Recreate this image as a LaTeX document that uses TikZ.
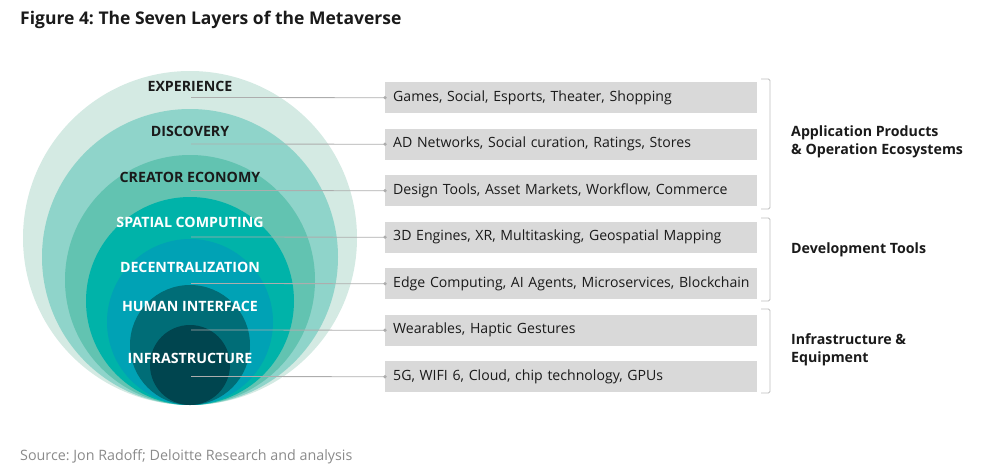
\documentclass[tikz,border=0pt]{standalone}
\usepackage{fontspec}
\setmainfont{Open Sans}
\definecolor{ringA}{HTML}{D4EAE3}
\definecolor{ringB}{HTML}{8FD4CA}
\definecolor{ringC}{HTML}{62C3B1}
\definecolor{ringD}{HTML}{00B3A9}
\definecolor{ringE}{HTML}{00A2B5}
\definecolor{ringF}{HTML}{006D77}
\definecolor{ringG}{HTML}{00454F}
\definecolor{boxgray}{HTML}{D9D9D9}
\definecolor{linegray}{HTML}{ADADAD}
\definecolor{brackgray}{HTML}{BDBDBD}
\definecolor{ink}{HTML}{1A1A1A}
\definecolor{srcgray}{HTML}{8A8A8A}
\begin{document}
\frenchspacing
\begin{tikzpicture}[x=1pt,y=-1pt,
  layer/.style={font=\bfseries\fontsize{14.2}{16}\selectfont, inner sep=0pt},
  darklayer/.style={layer, text=ink},
  lightlayer/.style={layer, text=white},
  item/.style={fill=boxgray, anchor=north west, minimum height=31pt,
    text width=356pt, inner xsep=8pt, inner ysep=0pt, align=left,
    font=\fontsize{14.1}{16}\selectfont, text=ink},
  conn/.style={draw=linegray, line width=0.8pt},
  enddot/.style={fill=linegray},
  brk/.style={draw=brackgray, line width=0.8pt, rounded corners=1.5pt},
  group/.style={anchor=west, align=left, font=\bfseries\fontsize{14.2}{18}\selectfont, text=ink, inner sep=0pt}]
\useasboundingbox (0,0) rectangle (991,474);

% title and source line
\node[anchor=west, inner sep=0pt, font=\bfseries\fontsize{17.5}{20}\selectfont, text=ink] (title) at (20,20) {Figure 4: The Seven Layers of the Metaverse};
\node[anchor=west, inner sep=0pt, font=\fontsize{14.3}{16}\selectfont, text=srcgray] (source) at (20,457) {Source: Jon Radoff; Deloitte Research and analysis};

% nested rings, all touching at the bottom
\fill[ringA] (190,238) circle[radius=167pt];
\fill[ringB] (190,257) circle[radius=148pt];
\fill[ringC] (190,280) circle[radius=125pt];
\fill[ringD] (190,301) circle[radius=104pt];
\fill[ringE] (190,322) circle[radius=83pt];
\fill[ringF] (190,345) circle[radius=60pt];
\fill[ringG] (190,365) circle[radius=40pt];

% item boxes
\node[item] (b1) at (385,82)    {Games, Social, Esports, Theater, Shopping};
\node[item] (b2) at (385,128.5) {AD Networks, Social curation, Ratings, Stores};
\node[item] (b3) at (385,175)   {Design Tools, Asset Markets, Workflow, Commerce};
\node[item] (b4) at (385,221.5) {3D Engines, XR, Multitasking, Geospatial Mapping};
\node[item] (b5) at (385,268)   {\mbox{Edge Computing, AI Agents, Microservices, Blockchain}};
\node[item] (b6) at (385,314.5) {Wearables, Haptic Gestures};
\node[item] (b7) at (385,361)   {5G, WIFI 6, Cloud, chip technology, GPUs};

% connector start points under each layer name
\coordinate (s1) at (191,97.5);
\coordinate (s2) at (191,144);
\coordinate (s3) at (191,190.5);
\coordinate (s4) at (191,237);
\coordinate (s5) at (191,283.5);
\coordinate (s6) at (191,330);
\coordinate (s7) at (191,376.5);

\foreach \i in {1,...,7}{
  \draw[conn] (s\i) -- (b\i.west);
  \fill[enddot] (b\i.west) circle[radius=1.8pt];
}

% layer names
\node[darklayer]  (l1) at (190,86)  {EXPERIENCE};
\node[darklayer]  (l2) at (190,131) {DISCOVERY};
\node[darklayer]  (l3) at (190,177) {CREATOR ECONOMY};
\node[lightlayer] (l4) at (190,222) {SPATIAL COMPUTING};
\node[lightlayer] (l5) at (190,267) {DECENTRALIZATION};
\node[lightlayer] (l6) at (190,306) {HUMAN INTERFACE};
\node[lightlayer] (l7) at (190,358) {INFRASTRUCTURE};

% group brackets
\draw[brk] (761,79) -- (770,79) -- (770,209) -- (761,209);
\draw[brk] (761,218) -- (770,218) -- (770,301) -- (761,301);
\draw[brk] (761,309) -- (770,309) -- (770,393) -- (761,393);

% group names
\node[group] (g1) at (791,142) {Application Products\\\& Operation Ecosystems};
\node[group] (g2) at (791,250) {Development Tools};
\node[group] (g3) at (791,349.5) {Infrastructure \&\\Equipment};
\end{tikzpicture}
\end{document}
